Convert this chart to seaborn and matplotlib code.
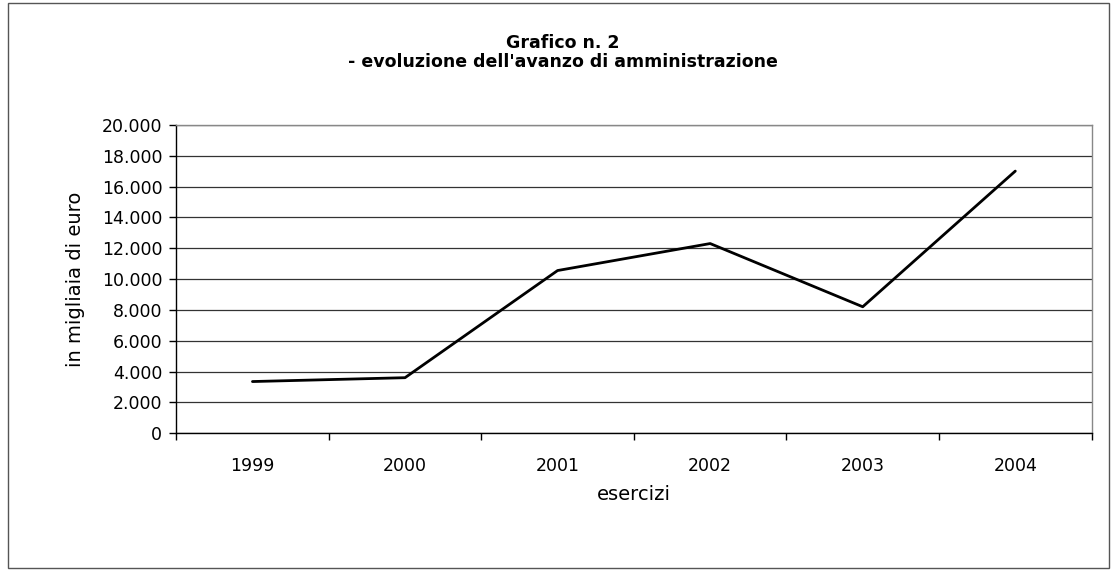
import numpy as np
import pandas as pd
import matplotlib
matplotlib.use('Agg')
import matplotlib.pyplot as plt
import seaborn as sns
from matplotlib.ticker import FuncFormatter, FixedLocator
from matplotlib.patches import Rectangle

# --- DATI ---
esercizi = ['1999', '2000', '2001', '2002', '2003', '2004']
avanzo = [3350, 3600, 10550, 12300, 8200, 17000]

df = pd.DataFrame({'esercizi': esercizi, 'avanzo': avanzo})

sns.set_style('white')
plt.rcParams['font.family'] = ['DejaVu Sans']
plt.rcParams['text.color'] = 'black'
plt.rcParams['axes.labelcolor'] = 'black'
plt.rcParams['xtick.color'] = 'black'
plt.rcParams['ytick.color'] = 'black'

fig = plt.figure(figsize=(11.15, 5.70), dpi=100)
ax = fig.add_axes([0.158, 0.240, 0.821, 0.541])

sns.lineplot(data=df, x='esercizi', y='avanzo', color='black', lw=2, ax=ax)

# asse y stile Excel
ax.set_ylim(0, 20000)
ax.set_yticks(np.arange(0, 20001, 2000))
ax.yaxis.set_major_formatter(FuncFormatter(lambda v, p: f'{int(v):,}'.replace(',', '.')))
ax.grid(axis='y', color='#333333', lw=0.9)
ax.set_axisbelow(True)

# asse x: etichette al centro, tacche tra le categorie
ax.set_xlim(-0.5, len(esercizi) - 0.5)
ax.xaxis.set_minor_locator(FixedLocator(np.arange(-0.5, len(esercizi), 1)))
ax.tick_params(axis='x', which='major', bottom=True, length=0, pad=17, labelsize=12.5)
ax.tick_params(axis='x', which='minor', bottom=True, length=5, width=1, direction='out', color='black')
ax.tick_params(axis='y', which='major', left=True, length=5, width=1, direction='out', color='black',
               labelsize=12.5, pad=5)

for side in ['left', 'bottom']:
    ax.spines[side].set_color('black')
    ax.spines[side].set_linewidth(1)
for side in ['top', 'right']:
    ax.spines[side].set_color('#888888')
    ax.spines[side].set_linewidth(1)

ax.set_xlabel('esercizi', fontsize=14, labelpad=7)
ax.set_ylabel('in migliaia di euro', fontsize=14, labelpad=12)

fig.text(0.505, 0.925, 'Grafico n. 2', ha='center', va='center', fontsize=12.5, fontweight='bold')
fig.text(0.505, 0.891, "- evoluzione dell'avanzo di amministrazione", ha='center', va='center',
         fontsize=12.5, fontweight='bold')

# cornice esterna
fig.patches.append(Rectangle((0.007, 0.004), 0.988, 0.99, transform=fig.transFigure,
                             fill=False, edgecolor='#555555', lw=1))

fig.savefig('out.png', dpi=100)
